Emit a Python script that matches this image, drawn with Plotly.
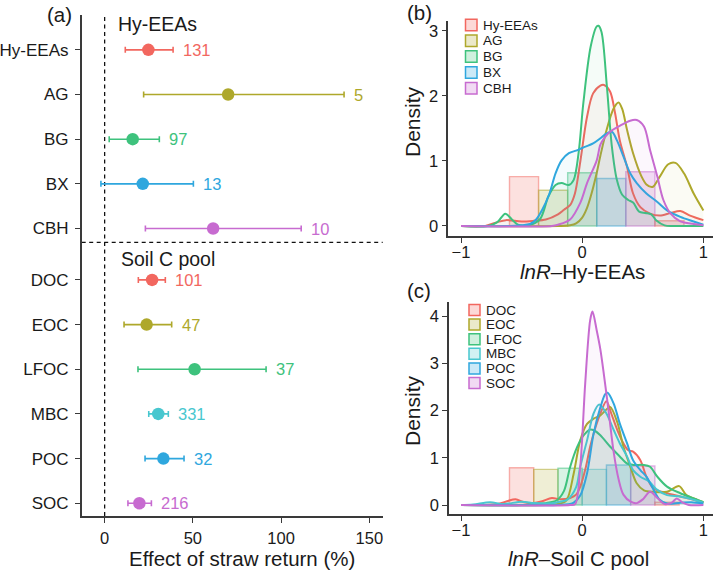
import plotly.graph_objects as go

W, H = 714, 571

# ---------------- data: panel (a) ----------------
vars_a = ["Hy-EEAs", "AG", "BG", "BX", "CBH", "DOC", "EOC", "LFOC", "MBC", "POC", "SOC"]
group_a = ["Hy-EEAs"] * 5 + ["Soil C pool"] * 6
effect_mean = [24.8, 70.0, 15.9, 21.6, 61.5, 26.9, 23.8, 51.0, 30.4, 33.3, 19.7]
effect_low = [11.7, 22.1, 2.6, -2.1, 23.1, 19.1, 11.0, 18.9, 25.0, 22.9, 13.2]
effect_high = [38.8, 135.7, 31.0, 50.3, 111.4, 34.4, 38.0, 91.5, 36.1, 45.0, 26.5]
n_obs = [131, 5, 97, 13, 10, 101, 47, 37, 331, 32, 216]
x_ticks_a = [0, 50, 100, 150]

# ---------------- data: panel (b) ----------------
groups_b = ["Hy-EEAs", "AG", "BG", "BX", "CBH"]
hist_b_center = [-0.48, -0.24, 0.0, 0.24, 0.48, 0.72]
hist_b_height = [0.76, 0.55, 0.82, 0.73, 0.835, 0.08]
hist_b_group = ["Hy-EEAs", "AG", "BG", "BX", "CBH", "Hy-EEAs"]
hist_b_width = 0.24

dens_hy_x = [-1, -0.8, -0.7, -0.63, -0.5, -0.4, -0.3, -0.2, -0.15, -0.1, -0.06, -0.015, 0.04, 0.09, 0.15, 0.18,
             0.23, 0.27, 0.31, 0.37, 0.42, 0.48, 0.56, 0.64, 0.73, 0.81, 0.89, 1.0]
dens_hy_y = [0, 0.0, 0.06, 0.09, 0.07, 0.08, 0.1, 0.18, 0.25, 0.32, 0.5, 1.0, 1.68, 2.04, 2.16, 2.17,
             2.07, 1.75, 1.32, 0.91, 0.5, 0.29, 0.19, 0.16, 0.2, 0.23, 0.16, 0.09]
dens_ag_x = [-1, -0.2, -0.1, -0.05, 0.0, 0.04, 0.08, 0.12, 0.15, 0.2, 0.26, 0.30, 0.33, 0.37, 0.42, 0.49, 0.53,
             0.58, 0.64, 0.71, 0.77, 0.84, 0.92, 1.0]
dens_ag_y = [0, 0, 0.01, 0.04, 0.13, 0.28, 0.52, 0.82, 1.08, 1.47, 1.81, 1.9, 1.8, 1.48, 1.12, 0.76, 0.64,
             0.6, 0.76, 0.95, 0.97, 0.81, 0.5, 0.24]
dens_bg_x = [-1, -0.78, -0.7, -0.635, -0.58, -0.53, -0.45, -0.35, -0.28, -0.22, -0.17, -0.11, -0.07, -0.03, 0.01,
             0.07, 0.12, 0.135, 0.16, 0.204, 0.245, 0.286, 0.33, 0.38, 0.42, 0.47, 0.52, 0.57, 0.61, 0.68, 0.75, 1.0]
dens_bg_y = [0, 0, 0.06, 0.19, 0.1, 0.02, 0.01, 0.1, 0.45, 0.63, 0.66, 0.63, 0.71, 1.12, 1.9,
             2.76, 3.07, 3.08, 2.98, 2.14, 1.22, 0.71, 0.48, 0.4, 0.36, 0.22, 0.2, 0.18, 0.09, 0.01, 0, 0]
dens_bx_x = [-1, -0.6, -0.51, -0.43, -0.38, -0.33, -0.27, -0.22, -0.17, -0.11, -0.05, 0.0, 0.09, 0.15, 0.19, 0.245,
             0.286, 0.34, 0.396, 0.45, 0.53, 0.62, 0.70, 0.81, 0.92, 1.0]
dens_bx_y = [0, 0.0, 0.01, 0.03, 0.1, 0.25, 0.5, 0.81, 1.01, 1.12, 1.16, 1.2, 1.27, 1.35, 1.41, 1.45,
             1.32, 1.07, 0.81, 0.66, 0.5, 0.37, 0.24, 0.14, 0.07, 0.02]
dens_cbh_x = [-1, -0.25, -0.2, -0.1, -0.015, 0.04, 0.12, 0.15, 0.19, 0.23, 0.31, 0.396, 0.45, 0.51, 0.56, 0.62, 0.67,
              0.73, 0.81, 0.92, 1.0]
dens_cbh_y = [0, 0, 0.02, 0.1, 0.36, 0.66, 1.01, 1.25, 1.37, 1.45, 1.54, 1.62, 1.63, 1.53, 1.17, 0.76, 0.4,
              0.19, 0.07, 0.03, 0.01]

# ---------------- data: panel (c) ----------------
groups_c = ["DOC", "EOC", "LFOC", "MBC", "POC", "SOC"]
hist_c_center = [-0.5, -0.3, -0.1, 0.1, 0.3, 0.5, 0.7]
hist_c_height = [0.79, 0.756, 0.78, 0.756, 0.848, 0.827, 0.06]
hist_c_group = ["DOC", "EOC", "LFOC", "MBC", "POC", "SOC", "DOC"]
hist_c_width = 0.2

dens_doc_x = [-1, -0.85, -0.7, -0.62, -0.55, -0.48, -0.4, -0.33, -0.25, -0.18, -0.1, -0.05, -0.016, 0.03, 0.066,
              0.11, 0.15, 0.2, 0.24, 0.29, 0.34, 0.38, 0.42, 0.48, 0.53, 0.59, 0.7, 0.81, 0.92, 1.0]
dens_doc_y = [0, 0.0, 0.02, 0.08, 0.12, 0.06, 0.04, 0.08, 0.15, 0.12, 0.15, 0.22, 0.39, 0.8, 1.24,
              1.65, 1.94, 2.2, 1.94, 1.59, 1.31, 1.16, 1.13, 0.95, 0.6, 0.35, 0.25, 0.18, 0.11, 0.05]
dens_eoc_x = [-1, -0.3, -0.2, -0.13, -0.07, -0.016, 0.04, 0.094, 0.15, 0.19, 0.23, 0.29, 0.34, 0.396, 0.45, 0.51,
              0.59, 0.7, 0.8, 0.86, 0.95, 1.0]
dens_eoc_y = [0, 0, 0.02, 0.1, 0.67, 1.37, 1.72, 1.83, 1.9, 2.0, 2.08, 1.75, 1.24, 0.82, 0.46, 0.31,
              0.28, 0.28, 0.4, 0.21, 0.11, 0.06]
dens_lfoc_x = [-1, -0.5, -0.4, -0.3, -0.21, -0.15, -0.1, -0.043, 0.01, 0.066, 0.1, 0.15, 0.23, 0.31, 0.37, 0.42,
               0.51, 0.56, 0.62, 0.7, 0.81, 0.92, 1.0]
dens_lfoc_y = [0, 0, 0.02, 0.04, 0.1, 0.3, 0.8, 1.22, 1.47, 1.6, 1.58, 1.48, 1.24, 1.03, 0.88, 0.85,
               0.85, 0.81, 0.6, 0.39, 0.25, 0.14, 0.06]
dens_mbc_x = [-1, -0.9, -0.76, -0.65, -0.5, -0.4, -0.3, -0.2, -0.12, -0.05, -0.016, 0.04, 0.094, 0.14, 0.2, 0.26,
              0.31, 0.37, 0.42, 0.48, 0.55, 0.62, 0.7, 0.81, 0.92, 1.0]
dens_mbc_y = [0, 0.01, 0.06, 0.02, 0.07, 0.04, 0.03, 0.06, 0.12, 0.38, 0.81, 1.37, 1.94, 2.13, 1.94, 1.59,
              1.31, 1.03, 0.74, 0.6, 0.5, 0.32, 0.21, 0.18, 0.11, 0.05]
dens_poc_x = [-1, -0.2, -0.1, -0.07, -0.016, 0.04, 0.094, 0.15, 0.19, 0.21, 0.26, 0.31, 0.37, 0.42, 0.48, 0.53,
              0.59, 0.64, 0.7, 0.81, 0.9, 1.0]
dens_poc_y = [0, 0, 0.02, 0.05, 0.2, 0.67, 1.51, 2.07, 2.35, 2.38, 2.15, 1.73, 1.31, 0.95, 0.74, 0.6,
              0.32, 0.11, 0.03, 0.05, 0.06, 0.03]
dens_soc_x = [-1, -0.1, -0.058, -0.016, 0.025, 0.066, 0.085, 0.12, 0.15, 0.18, 0.22, 0.26, 0.3, 0.34, 0.4, 0.45,
              0.5, 0.56, 0.62, 0.68, 0.74, 0.78, 0.83, 0.88, 1.0]
dens_soc_y = [0, 0, 0.02, 0.81, 2.58, 3.92, 4.1, 3.7, 3.3, 2.75, 1.95, 1.12, 0.55, 0.22, 0.07, 0.04,
              0.12, 0.28, 0.15, 0.02, 0.05, 0.14, 0.05, 0, 0]

dens_b = {"Hy-EEAs": (dens_hy_x, dens_hy_y), "AG": (dens_ag_x, dens_ag_y), "BG": (dens_bg_x, dens_bg_y),
          "BX": (dens_bx_x, dens_bx_y), "CBH": (dens_cbh_x, dens_cbh_y)}
dens_c = {"DOC": (dens_doc_x, dens_doc_y), "EOC": (dens_eoc_x, dens_eoc_y), "LFOC": (dens_lfoc_x, dens_lfoc_y),
          "MBC": (dens_mbc_x, dens_mbc_y), "POC": (dens_poc_x, dens_poc_y), "SOC": (dens_soc_x, dens_soc_y)}

# ---------------- styles ----------------
RED, OLIVE, GREEN, CYAN, BLUE, PURPLE = "#F2675F", "#AEA82B", "#3EC27D", "#48C7CF", "#2FA7DE", "#C76BD0"
colors = {"Hy-EEAs": RED, "AG": OLIVE, "BG": GREEN, "BX": BLUE, "CBH": PURPLE,
          "DOC": RED, "EOC": OLIVE, "LFOC": GREEN, "MBC": CYAN, "POC": BLUE, "SOC": PURPLE}
FONT = "Liberation Sans, Arial, Helvetica, sans-serif"
TXT = "#1a1a1a"
AX = "#3a3a3a"


def rgba(hexc, a):
    h = hexc.lstrip("#")
    return "rgba(%d,%d,%d,%.3f)" % (int(h[0:2], 16), int(h[2:4], 16), int(h[4:6], 16), a)


def fx(px):
    return px / W


def fy(py):
    return 1 - py / H


fig = go.Figure()

# ---------------- panel (a) ----------------
gap = 0.15
ypos = []
for i, g in enumerate(group_a):
    base = len(vars_a) - 1 - i
    ypos.append(base + (gap if g == "Hy-EEAs" else 0))

for i, v in enumerate(vars_a):
    c = colors[v]
    fig.add_trace(go.Scatter(
        x=[effect_mean[i]], y=[ypos[i]], mode="markers", xaxis="x", yaxis="y",
        marker=dict(size=12.5, color=c),
        error_x=dict(type="data", symmetric=False, array=[effect_high[i] - effect_mean[i]],
                     arrayminus=[effect_mean[i] - effect_low[i]], color=c, thickness=1.6, width=3),
        showlegend=False, hoverinfo="skip"))

annotations = []
for i, v in enumerate(vars_a):
    annotations.append(dict(x=effect_high[i], y=ypos[i], xref="x", yref="y", text=str(n_obs[i]),
                            showarrow=False, xanchor="left", yanchor="middle", xshift=8,
                            font=dict(family=FONT, size=16.5, color=colors[v])))

shapes = []
shapes.append(dict(type="line", xref="x", yref="y domain", x0=0, x1=0, y0=0, y1=1,
                   line=dict(color="#111", width=1.3, dash="4px,3.5px"), layer="below"))
shapes.append(dict(type="line", xref="x domain", yref="y", x0=0, x1=1, y0=5.84, y1=5.84,
                   line=dict(color="#111", width=1.3, dash="4px,3.5px"), layer="below"))

# ---------------- panels (b) and (c): histogram bars ----------------
for centers, heights, grp, wdt, xa, ya in [
        (hist_b_center, hist_b_height, hist_b_group, hist_b_width, "x2", "y2"),
        (hist_c_center, hist_c_height, hist_c_group, hist_c_width, "x3", "y3")]:
    for j in range(len(centers)):
        c = colors[grp[j]]
        fig.add_trace(go.Bar(x=[centers[j]], y=[heights[j]], width=wdt, xaxis=xa, yaxis=ya,
                             marker=dict(color=rgba(c, 0.2), line=dict(color=rgba(c, 0.5), width=1.4)),
                             showlegend=False, hoverinfo="skip"))

# ---------------- density curves ----------------
for dens, xa, ya in [(dens_b, "x2", "y2"), (dens_c, "x3", "y3")]:
    for g, (xs, ys) in dens.items():
        c = colors[g]
        fig.add_trace(go.Scatter(x=xs, y=ys, mode="lines", xaxis=xa, yaxis=ya,
                                 line=dict(color=c, width=2, shape="spline", smoothing=0.9),
                                 fill="tozeroy", fillcolor=rgba(c, 0.05),
                                 showlegend=False, hoverinfo="skip"))


# ---------------- manual legends ----------------
def legend(names, x_sq, y0, step, sq, fsize):
    for k, nm in enumerate(names):
        c = colors[nm]
        yc = y0 + k * step
        shapes.append(dict(type="rect", xref="paper", yref="paper",
                           x0=fx(x_sq), x1=fx(x_sq + sq), y0=fy(yc + sq / 2), y1=fy(yc - sq / 2),
                           fillcolor=rgba(c, 0.25), line=dict(color=c, width=1.5)))
        annotations.append(dict(x=fx(x_sq + sq + 3.5), y=fy(yc), xref="paper", yref="paper", text=nm,
                                showarrow=False, xanchor="left", yanchor="middle",
                                font=dict(family=FONT, size=fsize, color=TXT)))


legend(groups_b, 465.5, 25, 15.8, 11.5, 13.5)
legend(groups_c, 469, 310, 14.6, 11, 13.5)


# ---------------- text labels / titles ----------------
def txt(s, px, py, size, xanchor="center", angle=0):
    annotations.append(dict(x=fx(px), y=fy(py), xref="paper", yref="paper", text=s, showarrow=False,
                            xanchor=xanchor, yanchor="middle", textangle=angle,
                            font=dict(family=FONT, size=size, color=TXT)))


txt("(a)", 59, 14, 20.5)
txt("(b)", 419, 13, 20.5)
txt("(c)", 419, 290, 20.5)
txt("Hy-EEAs", 116, 23.5, 19.5, xanchor="left")
txt("Soil C pool", 118.5, 258.5, 19.5, xanchor="left")
txt("Effect of straw return (%)", 242, 558, 20.5)
txt("Density", 412, 121, 21, angle=-90)
txt("Density", 412, 410, 21, angle=-90)
txt("<i>lnR</i>–Hy-EEAs", 582, 271, 20.5)
txt("<i>lnR</i>–Soil C pool", 578, 558, 20.5)

axis_common = dict(showline=True, linecolor=AX, linewidth=1.5, ticks="outside", ticklen=5,
                   tickcolor=AX, tickwidth=1.4, showgrid=False, zeroline=False,
                   tickfont=dict(family=FONT, size=16.5, color=TXT))

fig.update_layout(
    width=W, height=H, margin=dict(l=0, r=0, t=0, b=0),
    paper_bgcolor="white", plot_bgcolor="white", barmode="overlay", showlegend=False,
    xaxis=dict(domain=[fx(81.7), fx(382.7)], range=[-13.0, 157.6], tickvals=x_ticks_a,
               anchor="y", ticklabelstandoff=1, **axis_common),
    yaxis=dict(domain=[fy(516), fy(15)], range=[-0.285, 10.93], tickvals=ypos, ticktext=vars_a,
               anchor="x", **{**axis_common, "tickfont": dict(family=FONT, size=17, color=TXT)},
               ticklabelstandoff=3),
    xaxis2=dict(domain=[fx(448.3), fx(712.7)], range=[-1.105, 1.077], tickvals=[-1, 0, 1],
                ticktext=["\u22121", "0", "1"], anchor="y2", ticklabelstandoff=-5, **axis_common),
    yaxis2=dict(domain=[fy(236), fy(20.7)], range=[-0.154, 3.158], tickvals=[0, 1, 2, 3],
                anchor="x2", **axis_common),
    xaxis3=dict(domain=[fx(449), fx(712.7)], range=[-1.099, 1.077], tickvals=[-1, 0, 1],
                ticktext=["\u22121", "0", "1"], anchor="y3", ticklabelstandoff=-5, **axis_common),
    yaxis3=dict(domain=[fy(514.3), fy(301.7)], range=[-0.197, 4.31], tickvals=[0, 1, 2, 3, 4],
                anchor="x3", **axis_common),
    shapes=shapes, annotations=annotations,
)

fig.write_html("out.html")
